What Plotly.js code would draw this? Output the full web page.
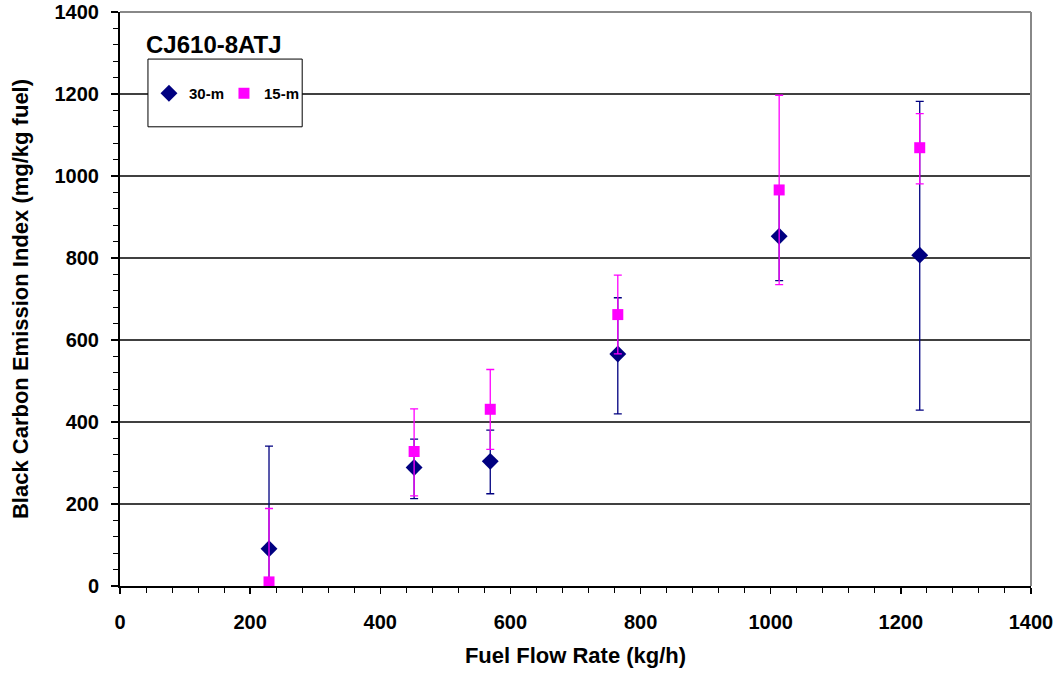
<!DOCTYPE html>
<html>
<head>
<meta charset="utf-8">
<script src="https://cdn.plot.ly/plotly-3.0.1.min.js"></script>
<style>html,body{margin:0;padding:0;background:#fff;}#chart{width:1064px;height:676px;}</style>
</head>
<body>
<div id="chart"></div>
<script>
// Data
const fuelFlow = [229, 452, 569, 765, 1013, 1229];

const bc30 = [91, 289, 304, 566, 853, 807];
const bc30ErrPlus = [250, 69, 76, 137, 108, 375];
const bc30ErrMinus = [91, 76, 79, 146, 108, 378];

const bc15 = [10, 328, 431, 662, 966, 1069];
const bc15ErrPlus = [179, 104, 97, 96, 231, 83];
const bc15ErrMinus = [10, 108, 98, 96, 231, 88];

const seriesNames = ['30-m', '15-m'];
const chartLabel = 'CJ610-8ATJ';
const xTitle = 'Fuel Flow Rate (kg/h)';
const yTitle = 'Black Carbon Emission Index (mg/kg fuel)';

const font = 'Liberation Sans, Arial, sans-serif';

const traces = [
  {
    x: fuelFlow, y: bc30, name: seriesNames[0], type: 'scatter', mode: 'markers',
    marker: {symbol: 'diamond', size: 13, color: '#000080'},
    error_y: {type: 'data', symmetric: false, array: bc30ErrPlus, arrayminus: bc30ErrMinus,
      color: '#000080', thickness: 1.3, width: 4},
    cliponaxis: true
  },
  {
    x: fuelFlow, y: bc15, name: seriesNames[1], type: 'scatter', mode: 'markers',
    marker: {symbol: 'square', size: 11, color: '#FF00FF'},
    error_y: {type: 'data', symmetric: false, array: bc15ErrPlus, arrayminus: bc15ErrMinus,
      color: '#FF00FF', thickness: 1.3, width: 4},
    cliponaxis: true
  }
];

const layout = {
  width: 1064, height: 676,
  margin: {l: 120, r: 33, t: 12, b: 90},
  paper_bgcolor: '#ffffff', plot_bgcolor: '#ffffff',
  font: {family: font, color: '#000', size: 20},
  showlegend: true,
  legend: {
    orientation: 'h', x: 0.0318, y: 0.858, xanchor: 'left', yanchor: 'middle',
    bgcolor: '#ffffff', borderwidth: 0,
    font: {family: font, size: 15, color: '#000', weight: 'bold'},
    itemwidth: 30, entrywidth: 30, entrywidthmode: 'pixels'
  },
  xaxis: {
    range: [0, 1400], dtick: 200, tick0: 0,
    showgrid: false, zeroline: false,
    showline: true, linecolor: '#000', linewidth: 2,
    ticks: 'outside', ticklen: 6, tickwidth: 1.5, tickcolor: '#000',
    minor: {dtick: 40, ticks: 'outside', ticklen: 5, tickwidth: 1, tickcolor: '#000', showgrid: false},
    tickfont: {family: font, size: 20, weight: 'bold'},
    ticklabelstandoff: 11,
    title: {text: xTitle, font: {family: font, size: 22, weight: 'bold'}, standoff: 16},
    fixedrange: true
  },
  yaxis: {
    range: [0, 1400], dtick: 200, tick0: 0,
    showgrid: true, gridcolor: '#404040', gridwidth: 2,
    zeroline: false,
    showline: true, linecolor: '#000', linewidth: 2,
    ticks: 'outside', ticklen: 7, tickwidth: 1.5, tickcolor: '#000',
    minor: {dtick: 40, ticks: 'outside', ticklen: 5, tickwidth: 1, tickcolor: '#000', showgrid: false},
    tickfont: {family: font, size: 20, weight: 'bold'},
    ticklabelstandoff: 8,
    title: {text: yTitle, font: {family: font, size: 22, weight: 'bold'}, standoff: 20},
    fixedrange: true
  },
  shapes: [
    {type: 'line', xref: 'paper', yref: 'paper', x0: 0, x1: 1, y0: 1, y1: 1,
     line: {color: '#888', width: 2}, layer: 'above'},
    {type: 'line', xref: 'paper', yref: 'paper', x0: 1, x1: 1, y0: 0, y1: 1,
     line: {color: '#888', width: 2}, layer: 'above'},
    {type: 'rect', xref: 'paper', yref: 'paper',
     x0: 0.0307, x1: 0.2, y0: 0.8, y1: 0.918,
     fillcolor: '#ffffff', line: {color: '#000', width: 1}, layer: 'above'}
  ],
  annotations: [
    {text: chartLabel, xref: 'paper', yref: 'paper', x: 0.026, y: 0.943,
     xanchor: 'left', yanchor: 'middle', showarrow: false,
     font: {family: font, size: 24, weight: 'bold', color: '#000'}}
  ]
};

Plotly.newPlot('chart', traces, layout, {displayModeBar: false, staticPlot: true});
</script>
</body>
</html>
